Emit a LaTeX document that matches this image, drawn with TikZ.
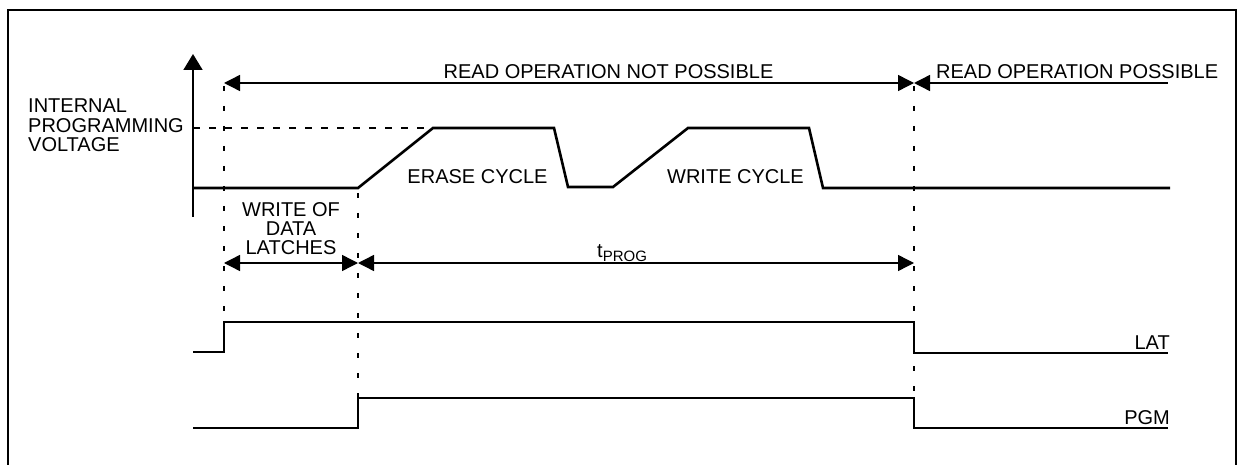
\documentclass[tikz,border=0pt]{standalone}
\usepackage{fontspec}
\setmainfont{Liberation Sans}
\usetikzlibrary{arrows.meta}
\begin{document}
\begin{tikzpicture}[x=1pt,y=-1pt,
  >={Triangle[length=16pt,width=16pt]},
  lbl/.style={font=\fontsize{20}{20}\selectfont, inner sep=0pt, anchor=base},
  lblw/.style={lbl, anchor=base west},
  lble/.style={lbl, anchor=base east},
  dim/.style={line width=1.4pt},
  sig/.style={line width=1.9pt, line join=miter},
  volt/.style={line width=2.6pt, line join=miter},
  vdash/.style={line width=2pt, dash pattern=on 5pt off 15pt, dash phase=-3pt},
  hdash/.style={line width=1.8pt, dash pattern=on 7pt off 9pt}]
\useasboundingbox (0,0) rectangle (1239,465);
% frame (open at the bottom)
\draw[line width=2.2pt] (7.7,470) -- (7.7,10.3) -- (1236,10.3) -- (1236,470);

% key time instants
\coordinate (a0) at (224,83);
\coordinate (b0) at (358,190);
\coordinate (c0) at (914,83);
\coordinate (a1) at (224,322);
\coordinate (b1) at (358,398);
\coordinate (c1) at (914,398);

% dashed markers
\draw[vdash] (a0) -- (a1);
\draw[vdash] (b0) -- (b1);
\draw[vdash] (c0) -- (c1);
\draw[hdash] (193,128) -- (430,128);

% voltage axis
\draw[line width=1.7pt, -{Triangle[length=16pt,width=19pt]}] (193,217) -- (193,54);

% internal programming voltage
\draw[volt] (193,188) -- (358,188) -- (433,128) -- (554,128) -- (568,187) -- (613,187)
  -- (688,128) -- (809,128) -- (823,188) -- (1170,188);

% LAT and PGM signals
\draw[sig] (193,352) -- (224,352) -- (224,322) -- (914,322) -- (914,353) -- (1168,353);
\draw[sig] (193,428) -- (358,428) -- (358,398) -- (914,398) -- (914,428) -- (1168,428);

% dimension arrows
\draw[dim,<->] (a0) -- (c0);
\draw[dim,<-] (c0) -- (1168,83);
\draw[dim,<->] (224,263) -- (358,263);
\draw[dim,<->] (358,263) -- (914,263);

% labels
\node[lbl] (rnp) at (608.5,79) {READ OPERATION NOT POSSIBLE};
\node[lblw] (rp) at (936,79) {READ OPERATION POSSIBLE};
\node[lblw] (ipv1) at (28,113) {INTERNAL};
\node[lblw] (ipv2) at (28,133) {PROGRAMMING};
\node[lblw] (ipv3) at (28,152) {VOLTAGE};
\node[lbl] (wd1) at (291,217) {WRITE OF};
\node[lbl] (wd2) at (291,236) {DATA};
\node[lbl] (wd3) at (291,254) {LATCHES};
\node[lbl] (erase) at (477.5,184) {ERASE CYCLE};
\node[lbl] (write) at (735.5,184) {WRITE CYCLE};
\node[lblw] (tprog) at (597,257) {t\raisebox{-4pt}{\fontsize{15}{15}\selectfont PROG}};
\node[lble] (lat) at (1170,349) {LAT};
\node[lble] (pgm) at (1170,424) {PGM};
\end{tikzpicture}
\end{document}
